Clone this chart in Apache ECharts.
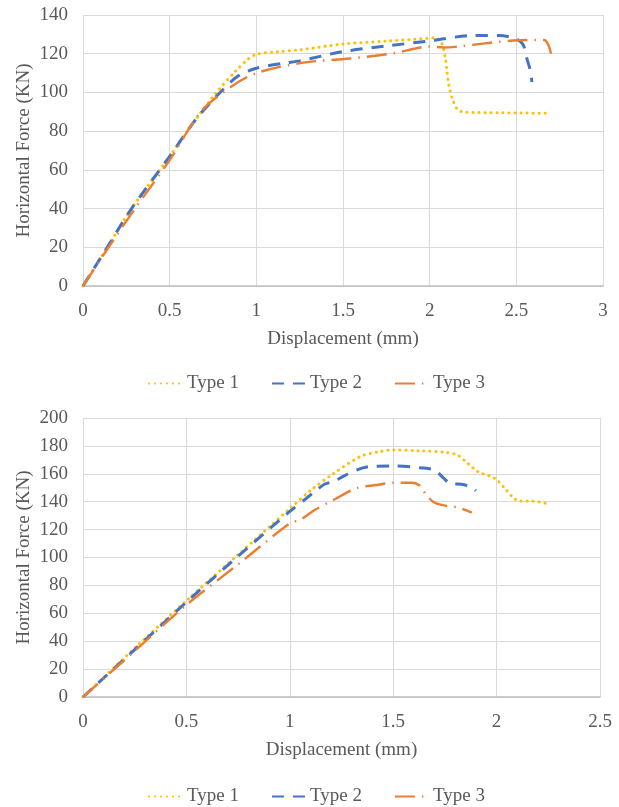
<!DOCTYPE html>
<html>
<head>
<meta charset="utf-8">
<script src="https://cdn.jsdelivr.net/npm/echarts@6/dist/echarts.min.js"></script>
<style>
  html, body { margin: 0; padding: 0; background: #fff; }
  #chart { width: 619px; height: 807px; }
</style>
</head>
<body>
<div id="chart"></div>
<script>
// upper chart
const top1X = [0, 0.14, 0.28, 0.5, 0.65, 0.77, 0.88, 0.95, 1.0, 1.12, 1.25, 1.5, 1.75, 2.0, 2.03, 2.07, 2.09, 2.1, 2.11, 2.13, 2.16, 2.2, 2.4, 2.68];
const top1Y = [0, 20, 40, 67, 86, 100, 111, 117, 119.7, 121, 122, 125, 126.5, 128, 128.3, 125.4, 117.7, 110.8, 104, 97, 91.3, 89.8, 89.5, 89.2];
const top2X = [0, 0.14, 0.28, 0.5, 0.65, 0.77, 0.89, 1.0, 1.16, 1.25, 1.5, 1.75, 2.0, 2.25, 2.4, 2.5, 2.54, 2.56, 2.58, 2.59];
const top2Y = [0, 20, 40, 67, 86, 98, 108.2, 112.5, 115.1, 116.3, 121.1, 124, 126.6, 129.4, 129.4, 127.6, 124.5, 117.7, 111.6, 105.3];
const top3X = [0, 0.14, 0.3, 0.5, 0.68, 0.85, 1.0, 1.27, 1.54, 1.79, 2.0, 2.08, 2.16, 2.48, 2.66, 2.685, 2.7];
const top3Y = [0, 19, 40, 65, 90, 102.7, 110, 115.4, 117.5, 120.2, 123.7, 123.2, 123.7, 126.8, 127.1, 124.5, 120];

// lower chart
const bot1X = [0, 0.25, 0.5, 0.75, 1.0, 1.1, 1.21, 1.34, 1.43, 1.5, 1.62, 1.75, 1.81, 1.86, 1.91, 1.99, 2.04, 2.08, 2.11, 2.17, 2.24];
const bot1Y = [0, 35, 69, 102, 135, 148, 160, 172.3, 175.8, 177.1, 176.6, 175.4, 173.5, 167.5, 161.5, 156.8, 149.6, 142.9, 140.5, 140.5, 138.8];
const bot2X = [0, 0.25, 0.5, 0.75, 1.0, 1.08, 1.12, 1.17, 1.21, 1.27, 1.38, 1.5, 1.64, 1.7, 1.74, 1.78, 1.83, 1.88, 1.9];
const bot2Y = [0, 34, 68, 101, 133, 142.4, 147.2, 152.7, 154.3, 159.1, 165.1, 165.6, 164.2, 162.7, 157.5, 152.7, 152.5, 150.3, 147.9];
const bot3X = [0, 0.25, 0.5, 0.756, 1.0, 1.05, 1.12, 1.21, 1.32, 1.42, 1.5, 1.59, 1.63, 1.66, 1.7, 1.76, 1.81, 1.88];
const bot3Y = [0, 33, 66, 95.8, 124.5, 127, 134, 141.2, 149.6, 152, 153.6, 153.6, 151.3, 144.8, 139.3, 136.9, 136, 132.1];

const seriesNames = ['Type 1', 'Type 2', 'Type 3'];

const font = "'Liberation Serif', 'Times New Roman', serif";
const textColor = '#595959';
const fontSize = 19;

const pair = (xs, ys) => xs.map((x, i) => [x, ys[i]]);

// Excel-like line looks: round dot, dash, long dash dot
const styles = [
  { color: '#FFC000', width: 3, type: [0.1, 5.9], cap: 'round' },
  { color: '#4472C4', width: 3, type: [12, 9], cap: 'butt' },
  { color: '#ED7D31', width: 2.4, type: [20, 7, 1.5, 7], cap: 'butt' }
];

function makeSeries(name, idx, data, gridIndex) {
  return {
    name: name,
    type: 'line',
    xAxisIndex: gridIndex,
    yAxisIndex: gridIndex,
    data: data,
    smooth: 0.3,
    symbol: 'none',
    color: styles[idx].color,
    lineStyle: styles[idx]
  };
}

function xAxisOpt(gridIndex, max) {
  return {
    type: 'value', gridIndex: gridIndex, min: 0, max: max, interval: 0.5,
    name: 'Displacement (mm)', nameLocation: 'middle', nameGap: 44,
    nameMoveOverlap: false,
    nameTextStyle: { fontFamily: font, fontSize: fontSize, color: textColor },
    axisLine: { show: true, lineStyle: { color: '#BFBFBF', width: 1.5 } },
    axisTick: { show: false },
    axisLabel: { fontFamily: font, fontSize: fontSize, color: textColor, margin: 16 },
    splitLine: { show: true, lineStyle: { color: '#D9D9D9', width: 1 } }
  };
}

function yAxisOpt(gridIndex, max, interval) {
  return {
    type: 'value', gridIndex: gridIndex, min: 0, max: max, interval: interval,
    name: 'Horizontal Force (KN)', nameLocation: 'middle', nameGap: 49,
    nameMoveOverlap: false,
    nameTextStyle: { fontFamily: font, fontSize: fontSize, color: textColor },
    axisLine: { show: false },
    axisTick: { show: false },
    axisLabel: { fontFamily: font, fontSize: fontSize, color: textColor, margin: 15 },
    splitLine: { show: true, lineStyle: { color: '#D9D9D9', width: 1 } }
  };
}

function legendOpt(top) {
  return {
    data: seriesNames, top: top, left: 143,
    itemWidth: 33, itemHeight: 12, itemGap: 32,
    itemStyle: { opacity: 0 },
    textStyle: { fontFamily: font, fontSize: fontSize, color: textColor }
  };
}

const chart = echarts.init(document.getElementById('chart'));
chart.setOption({
  animation: false,
  backgroundColor: '#fff',
  grid: [
    { left: 83, right: 16, top: 15, bottom: 521 },
    { left: 83, right: 19, top: 418, bottom: 110 }
  ],
  legend: [legendOpt(369), legendOpt(782)],
  xAxis: [xAxisOpt(0, 3), xAxisOpt(1, 2.5)],
  yAxis: [yAxisOpt(0, 140, 20), yAxisOpt(1, 200, 20)],
  series: [
    makeSeries(seriesNames[0], 0, pair(top1X, top1Y), 0),
    makeSeries(seriesNames[1], 1, pair(top2X, top2Y), 0),
    makeSeries(seriesNames[2], 2, pair(top3X, top3Y), 0),
    makeSeries(seriesNames[0], 0, pair(bot1X, bot1Y), 1),
    makeSeries(seriesNames[1], 1, pair(bot2X, bot2Y), 1),
    makeSeries(seriesNames[2], 2, pair(bot3X, bot3Y), 1)
  ]
});
</script>
</body>
</html>
